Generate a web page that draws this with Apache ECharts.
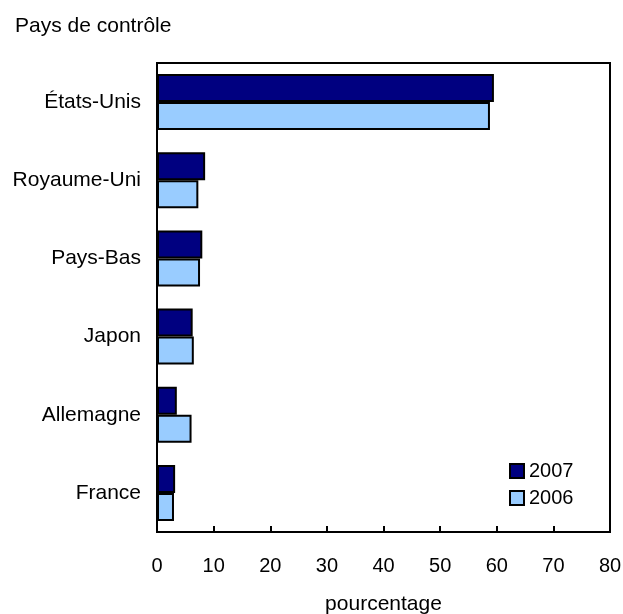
<!DOCTYPE html>
<html>
<head>
<meta charset="utf-8">
<script src="https://cdn.jsdelivr.net/npm/echarts@6/dist/echarts.min.js"></script>
<style>html,body{margin:0;padding:0;background:#fff;}#c{width:623px;height:614px;}</style>
</head>
<body>
<div id="c"></div>
<script>
const categories = ['États-Unis', 'Royaume-Uni', 'Pays-Bas', 'Japon', 'Allemagne', 'France'];
const values2007 = [59.5, 8.5, 8.0, 6.3, 3.5, 3.2];
const values2006 = [58.8, 7.3, 7.6, 6.5, 6.1, 3.0];
const xTicks = [0, 10, 20, 30, 40, 50, 60, 70, 80];

const font = 'Liberation Sans, Arial, Helvetica, sans-serif';
const chart = echarts.init(document.getElementById('c'));
chart.setOption({
  animation: false,
  backgroundColor: '#fff',
  textStyle: { fontFamily: font, color: '#000' },
  title: {
    text: 'Pays de contrôle', left: 10, top: 11,
    textStyle: { fontFamily: font, fontSize: 21, fontWeight: 'normal', color: '#000' }
  },
  grid: {
    left: 157, right: 13, top: 63, bottom: 82,
    outerBoundsMode: 'none', containLabel: false,
    show: true, borderColor: '#000', borderWidth: 2, backgroundColor: 'transparent'
  },
  legend: {
    orient: 'vertical', left: 504, top: 456, itemWidth: 14, itemHeight: 14, itemGap: 7,
    icon: 'rect',
    textStyle: { fontFamily: font, fontSize: 20, color: '#000' },
    data: ['2007', '2006']
  },
  xAxis: {
    type: 'value', min: xTicks[0], max: xTicks[xTicks.length - 1], interval: 10,
    axisLine: { show: true, lineStyle: { color: '#000', width: 2 } },
    axisTick: { show: true, inside: true, length: 6, lineStyle: { color: '#000', width: 2 } },
    splitLine: { show: false },
    axisLabel: { margin: 24, fontFamily: font, fontSize: 20, color: '#000' },
    name: 'pourcentage', nameLocation: 'middle', nameGap: 62,
    nameTextStyle: { fontFamily: font, fontSize: 21, color: '#000' }
  },
  yAxis: {
    type: 'category', data: categories, inverse: true,
    axisLine: { show: true, lineStyle: { color: '#000', width: 2 } },
    axisTick: { show: false },
    axisLabel: { margin: 16, fontFamily: font, fontSize: 21, color: '#000' }
  },
  series: [
    {
      name: '2007', type: 'bar', data: values2007, barWidth: 28, barGap: '0%',
      itemStyle: { color: '#000080', borderColor: '#000', borderWidth: 2 }
    },
    {
      name: '2006', type: 'bar', data: values2006, barWidth: 28, barGap: '0%',
      itemStyle: { color: '#99CCFF', borderColor: '#000', borderWidth: 2 }
    }
  ]
});
</script>
</body>
</html>
